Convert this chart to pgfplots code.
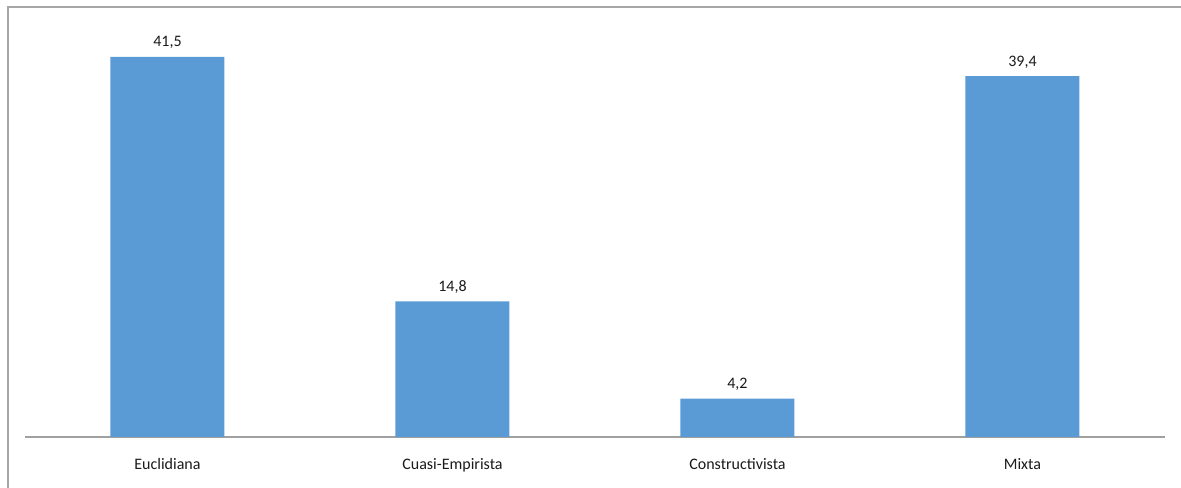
\documentclass[border=0pt]{standalone}
\usepackage{pgfplots}
\pgfplotsset{compat=1.18}
\usepackage{fontspec}
\setmainfont{Carlito}
\definecolor{barblue}{HTML}{5B9BD5}
\definecolor{txt}{HTML}{1A1A1A}
\definecolor{axisgray}{HTML}{A0A0A0}
\definecolor{framegray}{HTML}{A6A6A6}
\begin{document}
\begin{tikzpicture}[x=1bp,y=1bp]
\path[use as bounding box] (0,0) rectangle (1181,488);
\draw[color=framegray, line width=1.5bp] (8,-5) -- (8,481) -- (1181,481);
\begin{axis}[
  at={(25bp,51bp)}, anchor=south west,
  scale only axis, width=1140bp, height=420bp,
  xmin=-0.5, xmax=3.5, ymin=0, ymax=45.87,
  axis y line=none, axis x line=bottom,
  x axis line style={-, color=axisgray, line width=1.3bp},
  xtick={0,1,2,3},
  xticklabels={Euclidiana,Cuasi-Empirista,Constructivista,Mixta},
  major tick length=0pt,
  /pgf/number format/assume math mode=true,
  xticklabel style={anchor=base, yshift=-33bp, font=\fontsize{16bp}{19bp}\selectfont, text=txt},
  ybar, bar width=114bp,
  nodes near coords={\pgfmathprintnumber[fixed,fixed zerofill,precision=1,use comma,assume math mode=true]{\pgfplotspointmeta}},
  nodes near coords style={anchor=base, yshift=10bp, font=\fontsize{16bp}{19bp}\selectfont, text=txt},
  clip=false,
]
\addplot[fill=barblue, draw=none] coordinates {(0,41.5) (1,14.8) (2,4.2) (3,39.4)};
\end{axis}
\end{tikzpicture}
\end{document}
